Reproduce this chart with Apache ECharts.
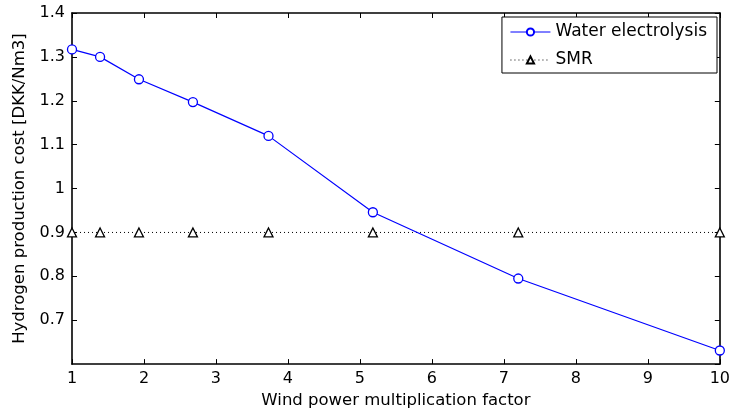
<!DOCTYPE html>
<html>
<head>
<meta charset="utf-8">
<script src="https://cdn.jsdelivr.net/npm/echarts@6/dist/echarts.min.js"></script>
<style>
  html, body { margin: 0; padding: 0; background: #fff; }
  #chart { width: 733px; height: 414px; }
</style>
</head>
<body>
<div id="chart"></div>
<script>
// Wind power multiplication factors (x) at which the cost was evaluated
const windFactor = [1, 1.39, 1.93, 2.68, 3.73, 5.18, 7.2, 10];
// Hydrogen production cost via water electrolysis [DKK/Nm3]
const electrolysisCost = [1.317, 1.300, 1.249, 1.197, 1.120, 0.946, 0.795, 0.631];
// Hydrogen production cost via steam methane reforming [DKK/Nm3]
const smrCost = [0.9, 0.9, 0.9, 0.9, 0.9, 0.9, 0.9, 0.9];
// Axis tick values
const xTicks = [1, 2, 3, 4, 5, 6, 7, 8, 9, 10];
const yTicks = [0.7, 0.8, 0.9, 1, 1.1, 1.2, 1.3, 1.4];

const font = 'DejaVu Sans, sans-serif';
const chart = echarts.init(document.getElementById('chart'), null, { renderer: 'canvas' });

const pair = (xs, ys) => xs.map((x, i) => [x, ys[i]]);
const isTick = (list, v) => list.some(t => Math.abs(t - v) < 1e-6);

const tickStyle = { show: true, inside: true, length: 5, lineStyle: { color: '#000', width: 1 } };
const lineStyle = { show: true, onZero: false, lineStyle: { color: '#000', width: 1.6 } };

chart.setOption({
  animation: false,
  backgroundColor: '#fff',
  grid: { left: 72, top: 13, right: 11, bottom: 49, containLabel: false },
  xAxis: [
    {
      type: 'value', min: 1, max: 10, interval: 1, position: 'bottom',
      name: 'Wind power multiplication factor', nameLocation: 'middle', nameGap: 27,
      nameTextStyle: { fontFamily: font, fontSize: 16.5, color: '#000' },
      axisLine: lineStyle, axisTick: tickStyle,
      axisLabel: {
        fontFamily: font, fontSize: 16, color: '#000', margin: 7,
        formatter: v => (isTick(xTicks, v) ? String(v) : '')
      },
      splitLine: { show: false }
    },
    {
      type: 'value', min: 1, max: 10, interval: 1, position: 'top',
      axisLine: lineStyle, axisTick: tickStyle, axisLabel: { show: false },
      splitLine: { show: false }
    }
  ],
  yAxis: [
    {
      type: 'value', min: 0.6, max: 1.4, interval: 0.1, position: 'left',
      name: 'Hydrogen production cost [DKK/Nm3]', nameLocation: 'middle', nameGap: 39,
      nameRotate: 90,
      nameTextStyle: { fontFamily: font, fontSize: 16.5, color: '#000' },
      axisLine: lineStyle, axisTick: tickStyle,
      axisLabel: {
        fontFamily: font, fontSize: 16, color: '#000', margin: 7, showMinLabel: false,
        formatter: v => (isTick(yTicks, v) ? String(+v.toFixed(2)) : '')
      },
      splitLine: { show: false }
    },
    {
      type: 'value', min: 0.6, max: 1.4, interval: 0.1, position: 'right',
      axisLine: lineStyle, axisTick: tickStyle, axisLabel: { show: false },
      splitLine: { show: false }
    }
  ],
  legend: {
    right: 16, top: 17,
    orient: 'vertical',
    backgroundColor: '#fff',
    borderColor: '#000', borderWidth: 1, borderRadius: 0,
    padding: [5, 10, 3, 8],
    itemGap: 8, itemWidth: 40, itemHeight: 9,
    lineStyle: { width: 1 },
    textStyle: { fontFamily: font, fontSize: 17, color: '#000', lineHeight: 20 },
    data: ['Water electrolysis', 'SMR']
  },
  series: [
    {
      name: 'Water electrolysis', type: 'line',
      data: pair(windFactor, electrolysisCost),
      symbol: 'circle', symbolSize: 9, showAllSymbol: true, clip: false,
      lineStyle: { color: '#0000ff', width: 1.2 },
      itemStyle: { color: '#fff', borderColor: '#0000ff', borderWidth: 1.3 },
      z: 3
    },
    {
      name: 'SMR', type: 'line',
      data: pair(windFactor, smrCost),
      symbol: 'triangle', symbolSize: 9, showAllSymbol: true, clip: false,
      lineStyle: { color: '#000', width: 1, type: [1, 3] },
      itemStyle: { color: '#fff', borderColor: '#000', borderWidth: 1.3 },
      z: 2
    }
  ]
});
</script>
</body>
</html>
